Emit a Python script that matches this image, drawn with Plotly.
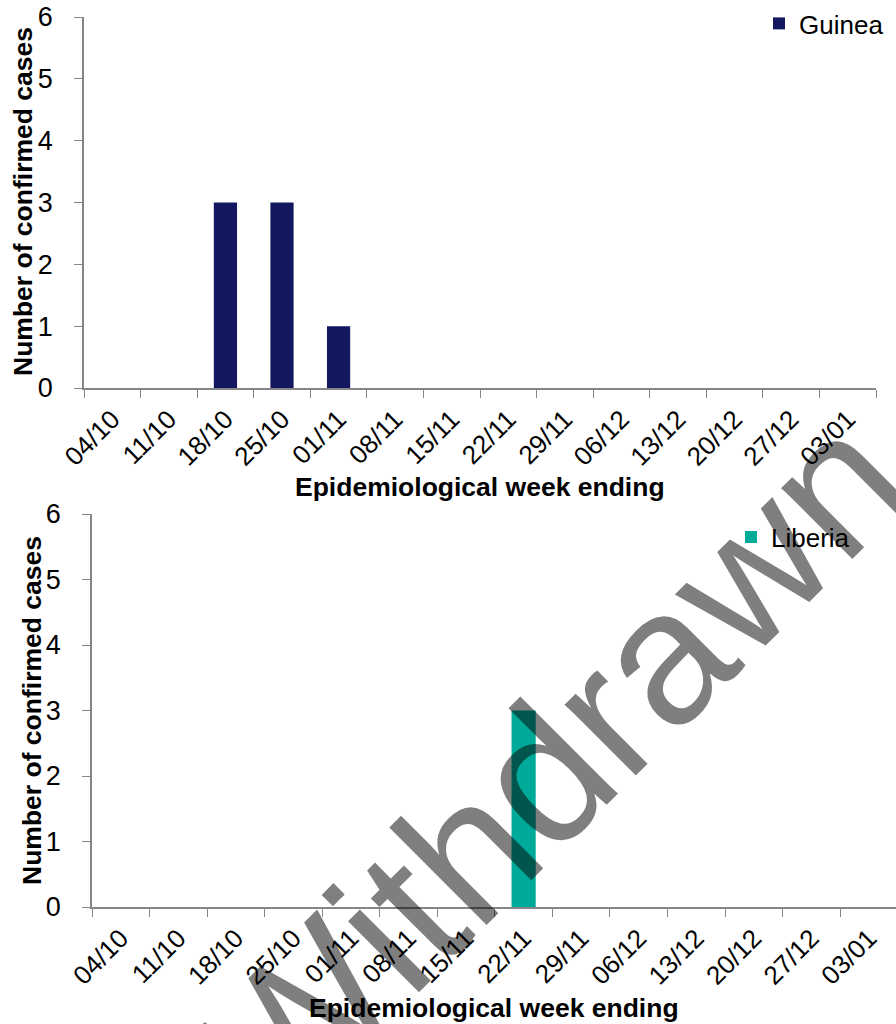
import plotly.graph_objects as go

weeks = ["04/10", "11/10", "18/10", "25/10", "01/11", "08/11", "15/11",
         "22/11", "29/11", "06/12", "13/12", "20/12", "27/12", "03/01"]
guinea = [0, 0, 3, 3, 1, 0, 0, 0, 0, 0, 0, 0, 0, 0]
liberia = [0, 0, 0, 0, 0, 0, 0, 3, 0, 0, 0, 0, 0, 0]

W, H = 896, 1024
OFF = 0  # page body margin removed via post_script
FONT = "Liberation Sans, Arial, sans-serif"
AXC = "#868686"

fig = go.Figure()
fig.add_trace(go.Bar(x=weeks, y=guinea, name="Guinea", marker_color="#131760",
                     width=0.41, xaxis="x", yaxis="y", legend="legend"))
fig.add_trace(go.Bar(x=weeks, y=liberia, name="Liberia", marker_color="#00AA9A",
                     width=0.42, xaxis="x2", yaxis="y2", legend="legend2"))

def px(x):
    return (x - OFF) / W

def py(y):
    return 1 - (y - OFF) / H

xcommon = dict(type="category", tickson="boundaries", ticks="outside", ticklen=8,
               tickcolor=AXC, tickwidth=1.3, showline=True, linecolor=AXC, linewidth=1.5,
               showgrid=False, zeroline=False, tickangle=-45, automargin=False,
               ticklabelstandoff=4, ticklabeloverflow="allow",
               tickfont=dict(family=FONT, size=26, color="#000"))
ycommon = dict(range=[0, 6], dtick=1, ticks="outside", ticklen=8, tickcolor=AXC,
               tickwidth=1.3, showline=True, linecolor=AXC, linewidth=1.5,
               showgrid=False, zeroline=False, automargin=False, ticklabelstandoff=16,
               ticklabeloverflow="allow",
               tickfont=dict(family=FONT, size=27, color="#000"))

fig.update_layout(
    width=W, height=H, template="none",
    margin=dict(l=0, r=0, t=0, b=0, autoexpand=False),
    paper_bgcolor="white", plot_bgcolor="white",
    bargap=0.5,
    xaxis=dict(domain=[px(84), px(876)], anchor="y", range=[-0.5, 13.5], **xcommon),
    yaxis=dict(domain=[py(388), py(17)], anchor="x", **ycommon),
    xaxis2=dict(domain=[px(92), 1.0], anchor="y2",
                range=[-0.5, -0.5 + (W + OFF - 92) / 57.55], **xcommon),
    yaxis2=dict(domain=[py(907), py(514)], anchor="x2", **ycommon),
    legend=dict(x=px(759), y=1.0, xanchor="left", yanchor="top",
                font=dict(family=FONT, size=26, color="#000"), bgcolor="rgba(0,0,0,0)",
                borderwidth=0),
    legend2=dict(x=px(731), y=py(537), xanchor="left", yanchor="middle",
                 font=dict(family=FONT, size=26, color="#000"), bgcolor="rgba(0,0,0,0)",
                 borderwidth=0),
    showlegend=True,
)

title_font = dict(family=FONT, size=26.5, color="#000")
annos = [
    dict(text="<b>Epidemiological week ending</b>", x=px(480), y=py(487)),
    dict(text="<b>Epidemiological week ending</b>", x=px(494), y=py(1008)),
    dict(text="<b>Number of confirmed cases</b>", x=px(23), y=py(202), textangle=-90),
    dict(text="<b>Number of confirmed cases</b>", x=px(32), y=py(711), textangle=-90),
]
for a in annos:
    fig.add_annotation(xref="paper", yref="paper", showarrow=False,
                       xanchor="center", yanchor="middle", font=title_font, **a)

fig.add_annotation(text="Withdrawn", xref="paper", yref="paper", x=px(554), y=py(764),
                   showarrow=False, xanchor="center", yanchor="middle", textangle=-45,
                   font=dict(family=FONT, size=190, color="rgba(0,0,0,0.5)"))

fig.write_html("out.html", config={"displayModeBar": False},
               post_script="document.body.style.margin='0px';document.body.style.overflow='hidden';")
